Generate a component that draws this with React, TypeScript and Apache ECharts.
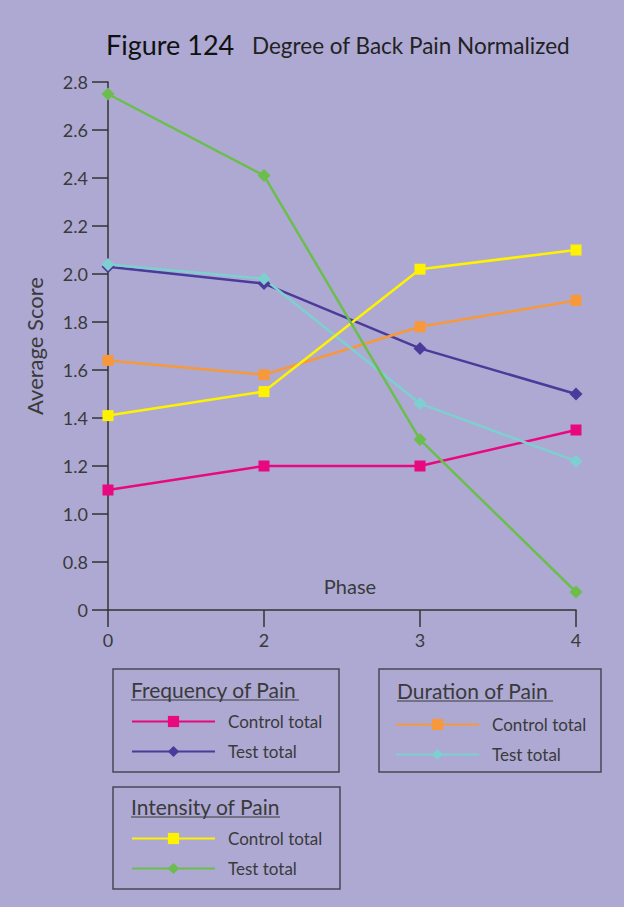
import React, { useEffect, useRef } from "react";
import * as echarts from "echarts";

const phases = ["0", "2", "3", "4"];
// Values in axis units; the axis bottom ("0" label) sits at the 0.6 position (axis break)
const freqControl = [1.1, 1.2, 1.2, 1.35];
const freqTest = [2.03, 1.96, 1.69, 1.5];
const durControl = [1.64, 1.58, 1.78, 1.89];
const durTest = [2.04, 1.98, 1.46, 1.22];
const intControl = [1.41, 1.51, 2.02, 2.1];
const intTest = [2.75, 2.41, 1.31, 0.675];

const BG = "#ADA9D3";
const FONT = "Lato, 'Open Sans', sans-serif";
const TXT = "#3a3a3a";

export default function App() {
  const ref = useRef<HTMLDivElement>(null);
  useEffect(() => {
    document.body.style.margin = "0";
    document.body.style.background = BG;
    const chart = echarts.init(ref.current!, null, { renderer: "svg" });
    const mk = (name: string, data: number[], color: string, symbol: string, size: number) => ({
      type: "line",
      name,
      data,
      symbol,
      symbolSize: size,
      lineStyle: { color, width: 2.5 },
      itemStyle: { color },
      z: 3,
    });
    const legendBase = {
      orient: "vertical",
      padding: 0,
      itemWidth: 83,
      itemHeight: 14,
      itemGap: 13,
      selectedMode: false,
      formatter: (n: string) => n.split("|")[1],
      textStyle: { fontFamily: FONT, fontSize: 17, color: TXT, padding: [0, 0, 0, 8] },
    };
    const box = (x: number, y: number, w: number, h: number) => ({
      type: "rect",
      shape: { x, y, width: w, height: h },
      style: { fill: "none", stroke: "#4a4656", lineWidth: 1.5 },
    });
    const title = (x: number, y: number, t: string, w: number) => [
      {
        type: "text",
        x,
        y,
        style: { text: t, fontFamily: FONT, fontSize: 21, fill: TXT, textVerticalAlign: "middle" },
      },
      {
        type: "line",
        shape: { x1: x, y1: y + 11, x2: x + w, y2: y + 11 },
        style: { stroke: TXT, lineWidth: 1 },
      },
    ];
    chart.setOption({
      animation: false,
      backgroundColor: BG,
      grid: { left: 108, right: 48, top: 82, bottom: 297 },
      xAxis: {
        type: "category",
        data: phases,
        boundaryGap: false,
        name: "Phase",
        nameLocation: "middle",
        nameGap: -34,
        nameTextStyle: { fontFamily: FONT, fontSize: 20, color: TXT, padding: [0, 0, 0, 16] },
        axisLine: { lineStyle: { color: "#333", width: 1.5 } },
        axisTick: { length: 17, lineStyle: { color: "#333", width: 1.5 } },
        axisLabel: { margin: 21, fontFamily: FONT, fontSize: 18, color: TXT },
      },
      yAxis: {
        type: "value",
        min: 0.6,
        max: 2.8,
        interval: 0.2,
        name: "Average Score",
        nameLocation: "middle",
        nameGap: 63,
        nameTextStyle: { fontFamily: FONT, fontSize: 22, color: TXT },
        splitLine: { show: false },
        axisLine: { show: true, lineStyle: { color: "#333", width: 1.5 } },
        axisTick: { show: true, length: 16, lineStyle: { color: "#333", width: 1.5 } },
        axisLabel: {
          margin: 20,
          fontFamily: FONT,
          fontSize: 18,
          color: TXT,
          formatter: (v: number) => (Math.abs(v - 0.6) < 1e-6 ? "0" : v.toFixed(1)),
        },
      },
      legend: [
        { ...legendBase, left: 131, top: 713, data: ["F|Control total", "F2|Test total"] },
        { ...legendBase, left: 395, top: 716, data: ["D|Control total", "D2|Test total"] },
        { ...legendBase, left: 131, top: 830, data: ["I|Control total", "I2|Test total"] },
      ],
      graphic: [
        {
          type: "text",
          x: 106,
          y: 44,
          style: {
            text: "Figure 124",
            fontFamily: FONT,
            fontSize: 27,
            fill: "#111",
            textVerticalAlign: "middle",
          },
        },
        {
          type: "text",
          x: 252,
          y: 45,
          style: {
            text: "Degree of Back Pain Normalized",
            fontFamily: FONT,
            fontSize: 22.5,
            fill: "#222",
            textVerticalAlign: "middle",
          },
        },
        box(113, 669, 226, 103),
        box(379, 669, 222, 103),
        box(113, 787, 227, 102),
        ...title(131, 689, "Frequency of Pain", 168),
        ...title(397, 690, "Duration of Pain", 156),
        ...title(131, 806, "Intensity of Pain", 149),
      ],
      series: [
        mk("F|Control total", freqControl, "#E8087F", "rect", 11),
        mk("F2|Test total", freqTest, "#4B3A9A", "diamond", 13),
        mk("D|Control total", durControl, "#F7993A", "rect", 11),
        mk("D2|Test total", durTest, "#7ECFD0", "diamond", 13),
        mk("I|Control total", intControl, "#FFF200", "rect", 11),
        mk("I2|Test total", intTest, "#6BBE4B", "diamond", 13),
      ],
    });
    return () => chart.dispose();
  }, []);
  return <div ref={ref} style={{ width: 624, height: 907 }} />;
}
